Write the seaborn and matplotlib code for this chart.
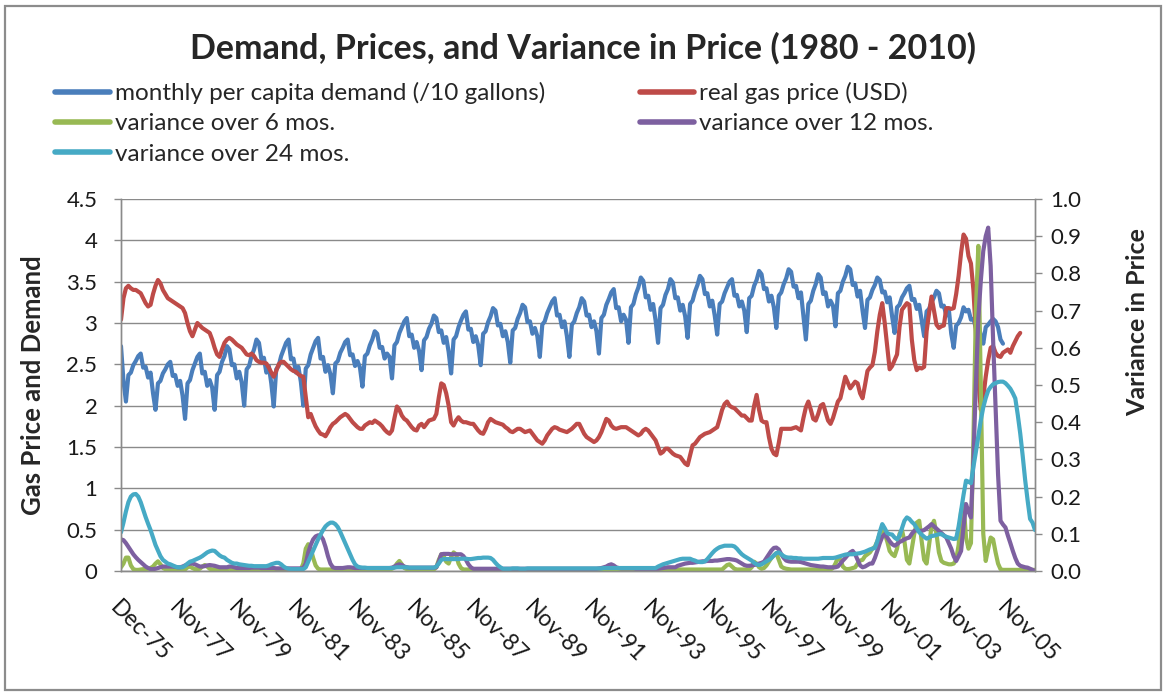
import numpy as np
import matplotlib
matplotlib.use("Agg")
import matplotlib.pyplot as plt
import seaborn as sns
from matplotlib.patches import Rectangle

# month index 0 = Dec-75, then one row per calendar year
demand = [2.72] + [
    2.30, 2.05, 2.37, 2.40, 2.49, 2.54, 2.60, 2.63, 2.46, 2.47, 2.34, 2.40,  # 1976
    2.15, 1.95, 2.27, 2.30, 2.39, 2.44, 2.50, 2.53, 2.36, 2.37, 2.24, 2.30,  # 1977
    2.12, 1.84, 2.27, 2.31, 2.43, 2.51, 2.59, 2.63, 2.39, 2.41, 2.24, 2.31,  # 1978
    2.22, 1.95, 2.37, 2.41, 2.53, 2.60, 2.72, 2.68, 2.49, 2.50, 2.33, 2.41,  # 1979
    2.28, 2.00, 2.44, 2.48, 2.60, 2.68, 2.80, 2.76, 2.56, 2.58, 2.40, 2.48,  # 1980
    2.27, 1.99, 2.44, 2.48, 2.60, 2.68, 2.76, 2.80, 2.56, 2.57, 2.40, 2.47,  # 1981
    2.29, 2.00, 2.45, 2.49, 2.62, 2.70, 2.78, 2.82, 2.57, 2.59, 2.41, 2.49,  # 1982
    2.38, 2.15, 2.51, 2.54, 2.64, 2.70, 2.77, 2.80, 2.61, 2.62, 2.48, 2.54,  # 1983
    2.46, 2.23, 2.60, 2.63, 2.73, 2.80, 2.90, 2.87, 2.70, 2.71, 2.57, 2.63,  # 1984
    2.59, 2.33, 2.73, 2.77, 2.88, 2.95, 3.02, 3.06, 2.84, 2.86, 2.70, 2.77,  # 1985
    2.66, 2.43, 2.79, 2.83, 2.93, 2.99, 3.09, 3.06, 2.89, 2.91, 2.76, 2.83,  # 1986
    2.65, 2.39, 2.80, 2.84, 2.95, 3.03, 3.10, 3.14, 2.92, 2.93, 2.77, 2.84,  # 1987
    2.73, 2.49, 2.87, 2.90, 3.01, 3.08, 3.18, 3.15, 2.97, 2.99, 2.84, 2.90,  # 1988
    2.77, 2.52, 2.91, 2.94, 3.05, 3.12, 3.22, 3.19, 3.01, 3.02, 2.87, 2.94,  # 1989
    2.84, 2.59, 2.98, 3.02, 3.12, 3.19, 3.26, 3.30, 3.09, 3.10, 2.95, 3.02,  # 1990
    2.84, 2.59, 2.98, 3.02, 3.12, 3.19, 3.30, 3.26, 3.09, 3.10, 2.95, 3.02,  # 1991
    2.90, 2.63, 3.06, 3.10, 3.22, 3.29, 3.37, 3.41, 3.18, 3.19, 3.02, 3.10,  # 1992
    3.04, 2.76, 3.19, 3.23, 3.35, 3.43, 3.55, 3.51, 3.31, 3.33, 3.16, 3.23,  # 1993
    3.03, 2.76, 3.18, 3.22, 3.34, 3.41, 3.53, 3.49, 3.30, 3.31, 3.15, 3.22,  # 1994
    3.08, 2.82, 3.23, 3.27, 3.38, 3.46, 3.57, 3.53, 3.35, 3.36, 3.20, 3.27,  # 1995
    3.09, 2.86, 3.23, 3.26, 3.36, 3.43, 3.50, 3.53, 3.33, 3.34, 3.20, 3.26,  # 1996
    3.15, 2.89, 3.30, 3.33, 3.45, 3.52, 3.63, 3.59, 3.41, 3.42, 3.26, 3.33,  # 1997
    3.19, 2.94, 3.33, 3.37, 3.47, 3.54, 3.65, 3.62, 3.44, 3.45, 3.30, 3.37,  # 1998
    3.08, 2.80, 3.23, 3.27, 3.39, 3.47, 3.59, 3.55, 3.35, 3.37, 3.20, 3.27,  # 1999
    3.21, 2.96, 3.36, 3.39, 3.50, 3.57, 3.68, 3.65, 3.46, 3.48, 3.32, 3.39,  # 2000
    3.15, 2.94, 3.28, 3.31, 3.40, 3.46, 3.55, 3.52, 3.37, 3.38, 3.25, 3.31,  # 2001
    3.08, 2.88, 3.19, 3.22, 3.31, 3.36, 3.42, 3.45, 3.28, 3.29, 3.17, 3.22,  # 2002
    3.03, 2.84, 3.14, 3.17, 3.25, 3.31, 3.39, 3.36, 3.20, 3.21, 3.09, 3.17,  # 2003
    2.87, 2.70, 2.97, 3.00, 3.07, 3.19, 3.14, 3.16, 3.04, 3.05, 2.94, 3.00,  # 2004
    2.85, 2.75, 2.95, 2.98, 3.02, 3.05, 3.02, 2.95, 2.80, 2.75,              # 2005
]

price = [3.04] + [
    3.30, 3.42, 3.45, 3.42, 3.40, 3.40, 3.38, 3.36, 3.30, 3.24, 3.20, 3.22,  # 1976
    3.35, 3.45, 3.52, 3.48, 3.40, 3.35, 3.30, 3.28, 3.26, 3.24, 3.22, 3.20,  # 1977
    3.18, 3.12, 3.00, 2.90, 2.84, 2.92, 3.00, 2.97, 2.94, 2.92, 2.90, 2.88,  # 1978
    2.80, 2.70, 2.62, 2.59, 2.68, 2.76, 2.80, 2.82, 2.80, 2.77, 2.74, 2.72,  # 1979
    2.70, 2.66, 2.62, 2.61, 2.63, 2.60, 2.55, 2.53, 2.52, 2.52, 2.51, 2.46,  # 1980
    2.40, 2.35, 2.42, 2.50, 2.53, 2.53, 2.50, 2.47, 2.44, 2.42, 2.41, 2.38,  # 1981
    2.36, 2.35, 2.10, 1.86, 1.90, 1.82, 1.75, 1.70, 1.66, 1.65, 1.63, 1.68,  # 1982
    1.74, 1.78, 1.80, 1.83, 1.86, 1.88, 1.90, 1.88, 1.84, 1.80, 1.77, 1.74,  # 1983
    1.72, 1.72, 1.76, 1.78, 1.80, 1.79, 1.82, 1.80, 1.78, 1.75, 1.71, 1.68,  # 1984
    1.66, 1.70, 1.85, 1.99, 1.95, 1.88, 1.84, 1.82, 1.78, 1.74, 1.71, 1.70,  # 1985
    1.76, 1.78, 1.74, 1.78, 1.82, 1.83, 1.84, 1.90, 2.10, 2.27, 2.25, 2.15,  # 1986
    2.00, 1.80, 1.76, 1.82, 1.86, 1.82, 1.80, 1.80, 1.79, 1.78, 1.78, 1.74,  # 1987
    1.70, 1.67, 1.66, 1.72, 1.80, 1.84, 1.82, 1.80, 1.79, 1.78, 1.77, 1.74,  # 1988
    1.72, 1.69, 1.68, 1.70, 1.72, 1.72, 1.70, 1.68, 1.69, 1.70, 1.66, 1.62,  # 1989
    1.58, 1.56, 1.54, 1.58, 1.64, 1.68, 1.72, 1.74, 1.73, 1.71, 1.70, 1.69,  # 1990
    1.68, 1.70, 1.72, 1.75, 1.78, 1.78, 1.72, 1.66, 1.62, 1.60, 1.58, 1.56,  # 1991
    1.58, 1.62, 1.68, 1.76, 1.84, 1.82, 1.76, 1.73, 1.72, 1.73, 1.74, 1.74,  # 1992
    1.74, 1.72, 1.70, 1.68, 1.66, 1.64, 1.66, 1.70, 1.72, 1.70, 1.66, 1.62,  # 1993
    1.58, 1.50, 1.42, 1.44, 1.48, 1.48, 1.45, 1.42, 1.40, 1.39, 1.38, 1.34,  # 1994
    1.30, 1.28, 1.40, 1.52, 1.54, 1.58, 1.62, 1.64, 1.66, 1.67, 1.68, 1.70,  # 1995
    1.72, 1.74, 1.84, 1.95, 2.02, 2.05, 2.00, 1.98, 1.97, 1.94, 1.91, 1.88,  # 1996
    1.88, 1.85, 1.82, 1.82, 2.00, 2.13, 1.95, 1.82, 1.80, 1.80, 1.62, 1.48,  # 1997
    1.42, 1.40, 1.55, 1.72, 1.72, 1.72, 1.72, 1.72, 1.73, 1.74, 1.72, 1.70,  # 1998
    1.85, 1.98, 2.05, 1.95, 1.84, 1.82, 1.90, 2.00, 2.02, 1.92, 1.82, 1.78,  # 1999
    1.85, 1.95, 2.05, 2.09, 2.22, 2.35, 2.28, 2.21, 2.25, 2.29, 2.27, 2.15,  # 2000
    2.09, 2.25, 2.42, 2.46, 2.49, 2.65, 2.90, 3.10, 3.24, 3.00, 2.72, 2.44,  # 2001
    2.48, 2.55, 2.62, 2.95, 3.16, 3.20, 3.24, 3.22, 2.80, 2.55, 2.43, 2.46,  # 2002
    2.45, 2.47, 2.90, 3.12, 3.32, 3.15, 2.98, 2.94, 2.96, 2.97, 3.18, 3.18,  # 2003
    3.17, 3.18, 3.35, 3.57, 3.85, 4.07, 4.02, 3.81, 3.72, 3.40, 2.88, 2.30,  # 2004
    1.95, 2.10, 2.35, 2.55, 2.70, 2.72, 2.64, 2.60, 2.59, 2.64, 2.66, 2.68,  # 2005
    2.64, 2.72, 2.78, 2.84, 2.88,                                            # 2006
]

var6 = [0.010] + [
    0.020, 0.036, 0.036, 0.015, 0.005, 0.003, 0.003, 0.004, 0.005, 0.005, 0.006, 0.008,  # 1976
    0.012, 0.020, 0.026, 0.018, 0.008, 0.005, 0.004, 0.004, 0.004, 0.004, 0.004, 0.004,  # 1977
    0.004, 0.004, 0.010, 0.012, 0.008, 0.005, 0.005, 0.006, 0.012, 0.016, 0.012, 0.006,  # 1978
    0.004, 0.005, 0.005, 0.004, 0.004, 0.004, 0.005, 0.006, 0.005, 0.004, 0.004, 0.004,  # 1979
    0.004, 0.004, 0.004, 0.004, 0.004, 0.004, 0.004, 0.004, 0.004, 0.004, 0.004, 0.004,  # 1980
    0.004, 0.004, 0.004, 0.004, 0.004, 0.004, 0.004, 0.004, 0.004, 0.004, 0.004, 0.004,  # 1981
    0.004, 0.020, 0.060, 0.072, 0.060, 0.035, 0.015, 0.006, 0.004, 0.004, 0.004, 0.004,  # 1982
    0.004, 0.004, 0.004, 0.004, 0.004, 0.004, 0.004, 0.004, 0.004, 0.004, 0.004, 0.004,  # 1983
    0.004, 0.004, 0.004, 0.004, 0.004, 0.004, 0.004, 0.004, 0.004, 0.004, 0.004, 0.004,  # 1984
    0.004, 0.006, 0.010, 0.020, 0.027, 0.018, 0.008, 0.005, 0.004, 0.004, 0.004, 0.004,  # 1985
    0.004, 0.004, 0.004, 0.004, 0.004, 0.004, 0.004, 0.010, 0.030, 0.045, 0.040, 0.025,  # 1986
    0.020, 0.038, 0.050, 0.045, 0.020, 0.008, 0.004, 0.004, 0.004, 0.004, 0.004, 0.004,  # 1987
    0.004, 0.004, 0.004, 0.004, 0.004, 0.004, 0.004, 0.004, 0.004, 0.004, 0.004, 0.004,  # 1988
    0.004, 0.004, 0.004, 0.004, 0.004, 0.004, 0.004, 0.004, 0.004, 0.004, 0.004, 0.004,  # 1989
    0.004, 0.004, 0.004, 0.004, 0.004, 0.004, 0.004, 0.004, 0.004, 0.004, 0.004, 0.004,  # 1990
    0.004, 0.004, 0.004, 0.004, 0.004, 0.004, 0.004, 0.004, 0.004, 0.004, 0.004, 0.004,  # 1991
    0.004, 0.004, 0.004, 0.004, 0.004, 0.004, 0.004, 0.004, 0.004, 0.004, 0.004, 0.004,  # 1992
    0.004, 0.004, 0.004, 0.004, 0.004, 0.004, 0.004, 0.004, 0.004, 0.004, 0.004, 0.004,  # 1993
    0.004, 0.004, 0.004, 0.004, 0.004, 0.004, 0.004, 0.004, 0.004, 0.004, 0.004, 0.004,  # 1994
    0.004, 0.004, 0.004, 0.004, 0.004, 0.004, 0.004, 0.004, 0.004, 0.004, 0.004, 0.004,  # 1995
    0.004, 0.004, 0.004, 0.004, 0.010, 0.016, 0.018, 0.012, 0.006, 0.004, 0.004, 0.004,  # 1996
    0.004, 0.004, 0.004, 0.010, 0.025, 0.020, 0.010, 0.006, 0.008, 0.015, 0.025, 0.035,  # 1997
    0.042, 0.048, 0.030, 0.012, 0.008, 0.006, 0.005, 0.004, 0.004, 0.004, 0.004, 0.004,  # 1998
    0.004, 0.004, 0.004, 0.004, 0.004, 0.004, 0.004, 0.004, 0.004, 0.004, 0.004, 0.004,  # 1999
    0.008, 0.020, 0.036, 0.030, 0.012, 0.006, 0.005, 0.006, 0.008, 0.010, 0.020, 0.028,  # 2000
    0.030, 0.040, 0.045, 0.050, 0.060, 0.065, 0.080, 0.100, 0.108, 0.100, 0.080, 0.054,  # 2001
    0.045, 0.040, 0.060, 0.100, 0.110, 0.080, 0.030, 0.020, 0.060, 0.100, 0.130, 0.135,  # 2002
    0.080, 0.030, 0.020, 0.070, 0.120, 0.135, 0.100, 0.050, 0.027, 0.022, 0.020, 0.018,  # 2003
    0.018, 0.020, 0.030, 0.070, 0.160, 0.180, 0.090, 0.060, 0.075, 0.350, 0.700, 0.874,  # 2004
    0.500, 0.100, 0.027, 0.060, 0.090, 0.085, 0.050, 0.020, 0.005, 0.003, 0.003, 0.003,  # 2005
    0.003, 0.003, 0.003, 0.003, 0.003, 0.003, 0.003, 0.003, 0.003, 0.003, 0.003,         # 2006
]

var12 = [0.085] + [
    0.083, 0.075, 0.065, 0.055, 0.045, 0.037, 0.030, 0.024, 0.018, 0.012, 0.008, 0.005,  # 1976
    0.005, 0.006, 0.008, 0.010, 0.012, 0.012, 0.012, 0.012, 0.012, 0.011, 0.010, 0.010,  # 1977
    0.012, 0.015, 0.018, 0.020, 0.020, 0.018, 0.015, 0.012, 0.012, 0.013, 0.015, 0.016,  # 1978
    0.015, 0.014, 0.012, 0.010, 0.010, 0.010, 0.010, 0.012, 0.012, 0.010, 0.008, 0.008,  # 1979
    0.008, 0.008, 0.008, 0.008, 0.009, 0.009, 0.009, 0.009, 0.008, 0.008, 0.008, 0.008,  # 1980
    0.008, 0.008, 0.007, 0.007, 0.007, 0.007, 0.007, 0.007, 0.007, 0.007, 0.007, 0.007,  # 1981
    0.007, 0.008, 0.020, 0.050, 0.070, 0.085, 0.093, 0.096, 0.095, 0.085, 0.065, 0.040,  # 1982
    0.020, 0.010, 0.008, 0.008, 0.008, 0.008, 0.009, 0.010, 0.010, 0.009, 0.008, 0.008,  # 1983
    0.008, 0.008, 0.008, 0.008, 0.008, 0.008, 0.008, 0.008, 0.008, 0.008, 0.008, 0.008,  # 1984
    0.008, 0.009, 0.012, 0.016, 0.018, 0.016, 0.012, 0.010, 0.009, 0.009, 0.009, 0.009,  # 1985
    0.009, 0.009, 0.009, 0.009, 0.009, 0.009, 0.009, 0.010, 0.025, 0.045, 0.046, 0.046,  # 1986
    0.046, 0.045, 0.045, 0.045, 0.045, 0.045, 0.040, 0.030, 0.018, 0.010, 0.006, 0.006,  # 1987
    0.006, 0.006, 0.006, 0.006, 0.006, 0.006, 0.006, 0.006, 0.006, 0.006, 0.006, 0.006,  # 1988
    0.006, 0.006, 0.006, 0.006, 0.006, 0.006, 0.006, 0.006, 0.006, 0.006, 0.006, 0.006,  # 1989
    0.006, 0.006, 0.006, 0.006, 0.006, 0.006, 0.006, 0.006, 0.006, 0.006, 0.006, 0.006,  # 1990
    0.006, 0.006, 0.006, 0.006, 0.006, 0.006, 0.006, 0.006, 0.006, 0.006, 0.006, 0.006,  # 1991
    0.006, 0.007, 0.008, 0.010, 0.012, 0.016, 0.018, 0.015, 0.010, 0.008, 0.007, 0.007,  # 1992
    0.007, 0.007, 0.007, 0.007, 0.006, 0.006, 0.006, 0.006, 0.006, 0.006, 0.006, 0.006,  # 1993
    0.006, 0.006, 0.007, 0.008, 0.009, 0.010, 0.010, 0.010, 0.010, 0.014, 0.016, 0.018,  # 1994
    0.020, 0.021, 0.022, 0.022, 0.023, 0.024, 0.025, 0.026, 0.026, 0.027, 0.027, 0.027,  # 1995
    0.028, 0.028, 0.029, 0.030, 0.031, 0.032, 0.032, 0.031, 0.030, 0.028, 0.024, 0.020,  # 1996
    0.016, 0.014, 0.014, 0.015, 0.016, 0.018, 0.020, 0.022, 0.025, 0.035, 0.045, 0.055,  # 1997
    0.062, 0.063, 0.058, 0.045, 0.035, 0.028, 0.026, 0.025, 0.025, 0.025, 0.025, 0.024,  # 1998
    0.022, 0.020, 0.018, 0.016, 0.015, 0.014, 0.013, 0.012, 0.012, 0.011, 0.010, 0.010,  # 1999
    0.010, 0.010, 0.012, 0.020, 0.028, 0.035, 0.043, 0.050, 0.054, 0.045, 0.030, 0.015,  # 2000
    0.010, 0.012, 0.016, 0.020, 0.020, 0.035, 0.054, 0.075, 0.092, 0.099, 0.090, 0.080,  # 2001
    0.072, 0.068, 0.072, 0.078, 0.081, 0.085, 0.088, 0.090, 0.100, 0.108, 0.110, 0.108,  # 2002
    0.108, 0.110, 0.115, 0.120, 0.126, 0.120, 0.114, 0.108, 0.102, 0.096, 0.090, 0.075,  # 2003
    0.060, 0.040, 0.027, 0.040, 0.054, 0.120, 0.180, 0.160, 0.144, 0.300, 0.500, 0.680,  # 2004
    0.780, 0.860, 0.900, 0.923, 0.820, 0.620, 0.440, 0.260, 0.135, 0.125, 0.117, 0.095,  # 2005
    0.075, 0.054, 0.035, 0.020, 0.014, 0.012, 0.010, 0.009, 0.006, 0.003, 0.000,         # 2006
]

var24 = [0.104] + [
    0.130, 0.160, 0.185, 0.200, 0.206, 0.207, 0.200, 0.185, 0.165, 0.145, 0.127, 0.110,  # 1976
    0.090, 0.070, 0.055, 0.040, 0.030, 0.025, 0.020, 0.018, 0.015, 0.012, 0.010, 0.010,  # 1977
    0.010, 0.014, 0.020, 0.025, 0.027, 0.030, 0.033, 0.036, 0.040, 0.045, 0.050, 0.053,  # 1978
    0.055, 0.054, 0.048, 0.042, 0.038, 0.036, 0.030, 0.026, 0.022, 0.020, 0.020, 0.018,  # 1979
    0.017, 0.016, 0.015, 0.014, 0.014, 0.013, 0.013, 0.013, 0.013, 0.013, 0.013, 0.015,  # 1980
    0.018, 0.020, 0.022, 0.022, 0.018, 0.012, 0.008, 0.006, 0.005, 0.005, 0.005, 0.005,  # 1981
    0.005, 0.005, 0.010, 0.025, 0.040, 0.055, 0.070, 0.085, 0.098, 0.110, 0.120, 0.126,  # 1982
    0.130, 0.130, 0.126, 0.118, 0.105, 0.090, 0.075, 0.060, 0.045, 0.030, 0.018, 0.012,  # 1983
    0.010, 0.009, 0.009, 0.008, 0.008, 0.008, 0.008, 0.008, 0.008, 0.008, 0.008, 0.008,  # 1984
    0.008, 0.008, 0.009, 0.010, 0.010, 0.010, 0.010, 0.010, 0.009, 0.009, 0.009, 0.009,  # 1985
    0.009, 0.009, 0.009, 0.009, 0.009, 0.009, 0.009, 0.012, 0.020, 0.030, 0.032, 0.032,  # 1986
    0.032, 0.032, 0.032, 0.032, 0.032, 0.033, 0.033, 0.033, 0.032, 0.032, 0.033, 0.034,  # 1987
    0.035, 0.035, 0.036, 0.036, 0.036, 0.035, 0.030, 0.022, 0.015, 0.010, 0.006, 0.006,  # 1988
    0.006, 0.006, 0.007, 0.007, 0.007, 0.006, 0.006, 0.006, 0.007, 0.007, 0.007, 0.007,  # 1989
    0.007, 0.007, 0.007, 0.007, 0.007, 0.007, 0.007, 0.007, 0.007, 0.007, 0.007, 0.007,  # 1990
    0.007, 0.007, 0.007, 0.007, 0.007, 0.007, 0.007, 0.007, 0.007, 0.007, 0.007, 0.007,  # 1991
    0.007, 0.007, 0.007, 0.008, 0.008, 0.008, 0.008, 0.008, 0.008, 0.008, 0.008, 0.008,  # 1992
    0.008, 0.008, 0.008, 0.008, 0.008, 0.008, 0.008, 0.008, 0.008, 0.008, 0.008, 0.008,  # 1993
    0.008, 0.012, 0.015, 0.018, 0.020, 0.022, 0.024, 0.026, 0.028, 0.030, 0.032, 0.033,  # 1994
    0.033, 0.033, 0.033, 0.030, 0.028, 0.025, 0.024, 0.024, 0.026, 0.032, 0.040, 0.048,  # 1995
    0.055, 0.060, 0.064, 0.066, 0.068, 0.068, 0.068, 0.068, 0.066, 0.060, 0.052, 0.045,  # 1996
    0.040, 0.036, 0.032, 0.028, 0.022, 0.018, 0.016, 0.018, 0.022, 0.026, 0.030, 0.035,  # 1997
    0.042, 0.048, 0.050, 0.045, 0.040, 0.037, 0.036, 0.036, 0.035, 0.035, 0.034, 0.034,  # 1998
    0.033, 0.033, 0.033, 0.033, 0.033, 0.033, 0.033, 0.034, 0.035, 0.035, 0.035, 0.035,  # 1999
    0.035, 0.036, 0.038, 0.040, 0.042, 0.044, 0.045, 0.045, 0.045, 0.046, 0.047, 0.048,  # 2000
    0.050, 0.052, 0.055, 0.058, 0.060, 0.062, 0.080, 0.105, 0.126, 0.115, 0.102, 0.099,  # 2001
    0.098, 0.090, 0.085, 0.095, 0.115, 0.135, 0.144, 0.140, 0.132, 0.126, 0.115, 0.104,  # 2002
    0.098, 0.092, 0.087, 0.090, 0.094, 0.095, 0.097, 0.099, 0.099, 0.095, 0.092, 0.090,  # 2003
    0.088, 0.086, 0.087, 0.120, 0.162, 0.205, 0.243, 0.240, 0.236, 0.280, 0.320, 0.362,  # 2004
    0.405, 0.440, 0.465, 0.485, 0.495, 0.502, 0.505, 0.508, 0.509, 0.509, 0.505, 0.498,  # 2005
    0.490, 0.478, 0.464, 0.420, 0.370, 0.310, 0.245, 0.190, 0.140, 0.130, 0.110,         # 2006
]

tick_labels = ["Dec-75", "Nov-77", "Nov-79", "Nov-81", "Nov-83", "Nov-85", "Nov-87",
               "Nov-89", "Nov-91", "Nov-93", "Nov-95", "Nov-97", "Nov-99", "Nov-01",
               "Nov-03", "Nov-05"]

names = ["monthly per capita demand (/10 gallons)", "real gas price (USD)",
         "variance over 6 mos.", "variance over 12 mos.", "variance over 24 mos."]
colors = ["#4a7ebb", "#be4b48", "#98b954", "#7d60a0", "#46aac5"]

sns.set_style("white")
plt.rcParams['font.family'] = ['Lato', 'DejaVu Sans']

fig = plt.figure(figsize=(11.67, 6.96), dpi=100)
fig.patches.append(Rectangle((5 / 1167, 6 / 696), 1156 / 1167, 684 / 696,
                             transform=fig.transFigure, fill=False,
                             edgecolor="#8c8c8c", linewidth=1.6))

ax = fig.add_axes([121 / 1167, 1 - 571 / 696, 914 / 1167, 372 / 696])
ax2 = ax.twinx()

lw = 3.0
sns.lineplot(x=np.arange(len(demand)), y=demand, ax=ax, color=colors[0], linewidth=lw)
sns.lineplot(x=np.arange(len(price)), y=price, ax=ax, color=colors[1], linewidth=lw)
sns.lineplot(x=np.arange(len(var6)), y=var6, ax=ax2, color=colors[2], linewidth=lw)
sns.lineplot(x=np.arange(len(var12)), y=var12, ax=ax2, color=colors[3], linewidth=lw)
sns.lineplot(x=np.arange(len(var24)), y=var24, ax=ax2, color=colors[4], linewidth=lw)

ax.set_xlim(0, len(var24) - 1)
ax.set_ylim(0, 4.5)
ax2.set_ylim(0, 1.0)

ax.set_yticks(np.arange(0, 4.51, 0.5))
ax.set_yticklabels(["0", "0.5", "1", "1.5", "2", "2.5", "3", "3.5", "4", "4.5"])
ax2.set_yticks(np.arange(0, 1.01, 0.1))
ax2.set_yticklabels([f"{v:.1f}" for v in np.arange(0, 1.01, 0.1)])

ax.set_xticks(np.arange(len(tick_labels)) * 24)
ax.set_xticklabels(tick_labels, rotation=-45, ha="left", va="top",
                   rotation_mode="anchor")

ax.grid(axis="y", color="#8a8a8a", linewidth=1.0)
ax.grid(axis="x", visible=False)
ax2.grid(False)
ax.set_axisbelow(True)

for a in (ax, ax2):
    a.spines["top"].set_visible(False)
    for side in ("left", "right", "bottom"):
        a.spines[side].set_color("#8a8a8a")
        a.spines[side].set_linewidth(1.0)

ax.tick_params(axis="y", which="major", labelsize=16, colors="#8a8a8a",
               labelcolor="#1a1a1a", length=5, width=1, direction="out", pad=12)
ax.tick_params(axis="x", which="major", labelsize=16.5, colors="#8a8a8a",
               labelcolor="#1a1a1a", length=5, width=1, direction="out", pad=14)
ax2.tick_params(axis="y", labelsize=16, colors="#8a8a8a", labelcolor="#1a1a1a",
                length=5, width=1, direction="out", pad=6)

ax.set_xlabel("")
ax.set_ylabel("Gas Price and Demand", fontsize=18.5, fontweight="bold")
ax.yaxis.set_label_coords(-0.083, 0.5)
ax2.set_ylabel("Variance in Price", fontsize=18, fontweight="bold")
ax2.yaxis.set_label_coords(1.100, 0.669)

fig.text(583 / 1167, 1 - 48 / 696, "Demand, Prices, and Variance in Price (1980 - 2010)",
         ha="center", va="center", fontsize=24.5, fontweight="bold")

lines = ax.get_lines() + ax2.get_lines()
order = [0, 2, 4, 1, 3]
handles = [lines[i] for i in order]
labels = [names[i] for i in order]
leg = fig.legend(handles, labels, ncol=2, loc="upper left",
                 bbox_to_anchor=(55 / 1167, 1 - 82 / 696), frameon=False,
                 fontsize=17.5, handlelength=2.25, handletextpad=0.2,
                 columnspacing=3.9, labelspacing=0.38, borderaxespad=0,
                 borderpad=0)
for h in leg.legend_handles:
    h.set_linewidth(4)

fig.savefig("out.png", dpi=100)
